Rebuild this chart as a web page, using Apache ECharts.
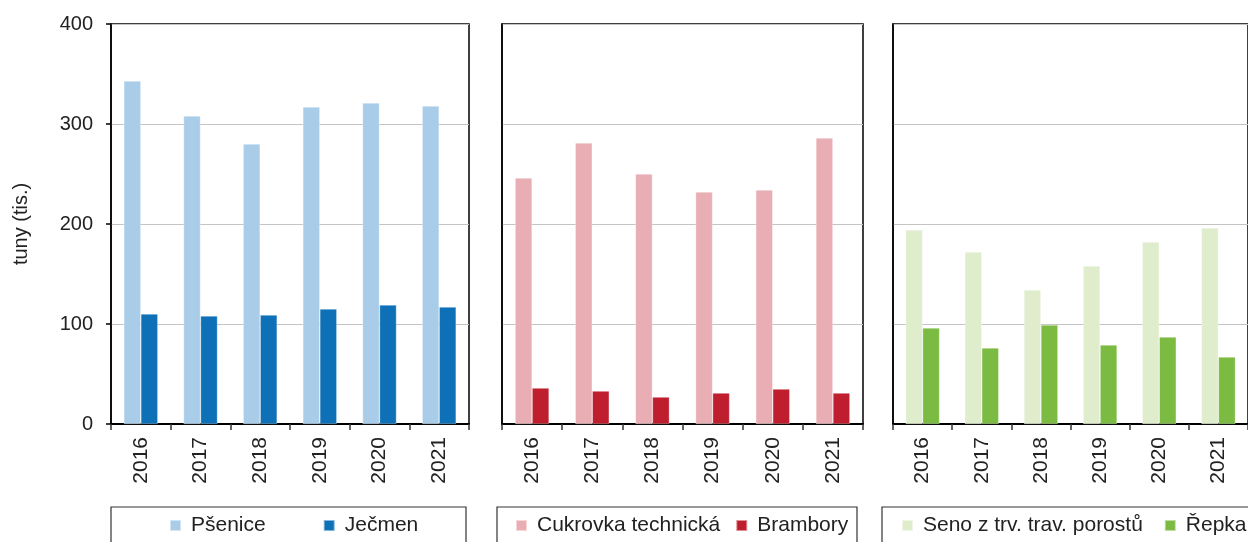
<!DOCTYPE html>
<html>
<head>
<meta charset="utf-8">
<script src="https://cdn.jsdelivr.net/npm/echarts@6/dist/echarts.min.js"></script>
<style>
  html, body { margin: 0; padding: 0; background: #fff; }
  #chart { width: 1248px; height: 542px; }
</style>
</head>
<body>
<div id="chart"></div>
<script>
var years = ['2016', '2017', '2018', '2019', '2020', '2021'];
var yTicks = [0, 100, 200, 300, 400];

var psenice = [343, 308, 280, 317, 321, 318];
var jecmen = [110, 108, 109, 115, 119, 117];
var cukrovka = [246, 281, 250, 232, 234, 286];
var brambory = [36, 33, 27, 31, 35, 31];
var seno = [194, 172, 134, 158, 182, 196];
var repka = [96, 76, 99, 79, 87, 67];

var font = 'Liberation Sans, Arial, sans-serif';
var textCol = '#222';

var myChart = echarts.init(document.getElementById('chart'), null, { renderer: 'canvas' });

// one panel per crop group
var panels = [
    { left: 111, width: 358, names: ['Pšenice', 'Ječmen'], data: [psenice, jecmen], colors: ['#a9cde8', '#0e71b8'], legLeft: 169, legGap: 57 },
    { left: 502, width: 361, names: ['Cukrovka technická', 'Brambory'], data: [cukrovka, brambory], colors: ['#e8aeb3', '#be1e2d'], legLeft: 515, legGap: 15 },
    { left: 893, width: 358, names: ['Seno z trv. trav. porostů', 'Řepka'], data: [seno, repka], colors: ['#dfedcc', '#7cbb42'], legLeft: 901, legGap: 21 }
];

var grids = [], xAxes = [], yAxes = [], series = [], legends = [];

panels.forEach(function (p, i) {
    grids.push({
        left: p.left, top: 24, width: p.width, height: 400,
        show: true, borderColor: '#000', borderWidth: 1.5, backgroundColor: 'transparent'
    });
    xAxes.push({
        type: 'category', gridIndex: i, data: years,
        axisLine: { lineStyle: { color: '#000', width: 2 } },
        axisTick: { show: true, length: 6, lineStyle: { color: '#333', width: 1.5 } },
        axisLabel: { rotate: 90, margin: 13, color: textCol, fontSize: 21, fontFamily: font }
    });
    yAxes.push({
        type: 'value', gridIndex: i, min: yTicks[0], max: yTicks[yTicks.length - 1], interval: 100,
        name: i === 0 ? 'tuny (tis.)' : '',
        nameLocation: 'middle', nameGap: 80, nameRotate: 90,
        nameTextStyle: { color: textCol, fontSize: 20, fontFamily: font },
        axisLine: { show: true, lineStyle: { color: '#000', width: 1.5 } },
        axisTick: { show: i === 0, length: 5, lineStyle: { color: '#000', width: 1.5 } },
        axisLabel: { show: i === 0, margin: 18, color: textCol, fontSize: 20, fontFamily: font },
        splitLine: { show: true, lineStyle: { color: '#c4c4c4', width: 1.2 } }
    });
    p.names.forEach(function (n, k) {
        series.push({
            name: n, type: 'bar', xAxisIndex: i, yAxisIndex: i,
            barWidth: 17, barGap: '0%',
            itemStyle: { color: p.colors[k], borderColor: 'rgba(255,255,255,0.5)', borderWidth: 0.6 },
            data: p.data[k]
        });
    });
    legends.push({
        data: p.names, left: p.legLeft, top: 515, padding: 0,
        itemGap: p.legGap, itemWidth: 11, itemHeight: 11, icon: 'rect',
        textStyle: { color: textCol, fontSize: 21, fontFamily: font, padding: [0, 0, 0, 5] }
    });
});

var option = {
    animation: false,
    backgroundColor: '#fff',
    textStyle: { fontFamily: font },
    grid: grids,
    xAxis: xAxes,
    yAxis: yAxes,
    legend: legends,
    // legend frames
    graphic: [
        { type: 'rect', shape: { x: 111, y: 507, width: 355, height: 60 }, style: { fill: 'none', stroke: '#333', lineWidth: 1.2 }, silent: true },
        { type: 'rect', shape: { x: 497, y: 507, width: 360, height: 60 }, style: { fill: 'none', stroke: '#333', lineWidth: 1.2 }, silent: true },
        { type: 'rect', shape: { x: 882, y: 507, width: 400, height: 60 }, style: { fill: 'none', stroke: '#333', lineWidth: 1.2 }, silent: true }
    ],
    series: series
};

myChart.setOption(option, true);
</script>
</body>
</html>
